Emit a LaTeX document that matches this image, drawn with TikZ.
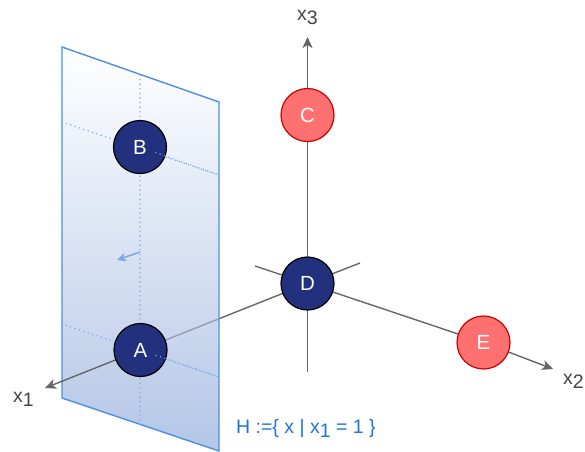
\documentclass[tikz,border=0pt]{standalone}
\usepackage{fontspec}
\setmainfont{Liberation Sans}
\usetikzlibrary{arrows.meta,calc}
\definecolor{navy}{HTML}{22307E}
\definecolor{redfill}{HTML}{FF7070}
\definecolor{reddraw}{HTML}{CC0000}
\definecolor{axisgray}{HTML}{666666}
\definecolor{axislight}{HTML}{939DB0}
\definecolor{labgray}{HTML}{444444}
\definecolor{planeedge}{HTML}{4A90E2}
\definecolor{planebot}{HTML}{B3C6E7}
\definecolor{dotblue}{HTML}{7AA5E6}
\definecolor{arrowblue}{HTML}{7EA6E0}
\definecolor{hblue}{HTML}{1F73D6}
\pgfdeclarelayer{axisback}
\pgfdeclarelayer{planelayer}
\pgfdeclarelayer{planefront}
\pgfdeclarelayer{toplayer}
\pgfsetlayers{axisback,planelayer,planefront,main,toplayer}
\newcommand{\lowsub}[1]{\raisebox{-0.25em}{#1}}
\begin{document}
\begin{tikzpicture}[x=1pt,y=-1pt,
  axis/.style={draw=axisgray, line width=1.4pt},
  axtip/.style={-{Stealth[length=11pt,width=10pt,inset=3pt]}},
  ball/.style={circle, minimum size=53pt, inner sep=0pt, line width=1.2pt, text=white, font=\fontsize{20.5}{20.5}\selectfont},
  navyball/.style={ball, fill=navy, draw=black},
  redball/.style={ball, fill=redfill, draw=reddraw},
  gridline/.style={draw=dotblue, line width=1.6pt, line cap=round, dash pattern=on 0pt off 4.6pt},
  lbl/.style={font=\fontsize{19.5}{19.5}\selectfont, text=labgray, inner sep=0pt, anchor=base west}]
\useasboundingbox (0,0) rectangle (585,451);

% coordinates
\coordinate (x3tip) at (307.5,37);
\coordinate (x3end) at (307.5,372);
\coordinate (x2tip) at (553,369);
\coordinate (x2end) at (255,266);
\coordinate (x1tip) at (45,388);
\coordinate (x1end) at (360,263);
\coordinate (P1) at (62,47);
\coordinate (P2) at (219,102);
\coordinate (P3) at (219,451);
\coordinate (P4) at (62,398);
\coordinate (Vt) at (140,75);
\coordinate (Vb) at (140,426);
\coordinate (Bl) at (62,122);
\coordinate (Br) at (219,175);
\coordinate (Al) at (62,324);
\coordinate (Ar) at (219,377);
\coordinate (hs) at (140,252);
\coordinate (he) at (117,260);

% nodes
\node[navyball] (A) at (140.5,350) {A};
\node[navyball] (B) at (140,147) {B};
\node[redball]  (C) at (307.5,115) {C};
\node[navyball] (D) at (307.5,283.5) {D};
\node[redball]  (E) at (483.5,342.5) {E};

\begin{pgfonlayer}{axisback}
  \draw[axis,axtip] (x3end) -- (D.center) -- (C.center) -- (x3tip);
  \draw[axis,axtip] (x2end) -- (D.center) -- (E.center) -- (x2tip);
  \draw[axis] (x1end) -- (D.center) -- ($(A.center)!0.47!(D.center)$);
\end{pgfonlayer}

\begin{pgfonlayer}{planelayer}
  \shade[top color=white, bottom color=planebot] (P1) -- (P2) -- (P3) -- (P4) -- cycle;
  \draw[draw=planeedge, line width=1.4pt] (P1) -- (P2) -- (P3) -- (P4) -- cycle;
\end{pgfonlayer}

\begin{pgfonlayer}{planefront}
  \draw[gridline] (Vt) -- (Vb);
  \draw[gridline] (Bl) -- (Br);
  \draw[gridline] (Al) -- (Ar);
  \draw[draw=axislight, line width=1.4pt] ($(A.center)!0.47!(D.center)$) -- (A.center);
  \draw[axis,axtip] (A.center) -- (x1tip);
  \draw[draw=arrowblue, line width=1.5pt, -{Stealth[length=9pt,width=8.5pt,inset=2.5pt]}] (hs) -- (he);
\end{pgfonlayer}

\begin{pgfonlayer}{toplayer}
  \draw[gridline] ($(B.center)!0.2!(Br)$) -- (Br);
  \draw[gridline] ($(A.center)!0.2!(Ar)$) -- (Ar);
\end{pgfonlayer}

% labels
\node[lbl] (lx3) at (297,20) {x\lowsub{3}};
\node[lbl] (lx1) at (13,402) {x\lowsub{1}};
\node[lbl] (lx2) at (563,384) {x\lowsub{2}};
\node[lbl, text=hblue] (lH) at (236,433) {H :=\{ x | x\lowsub{1} = 1 \}};
\end{tikzpicture}
\end{document}
